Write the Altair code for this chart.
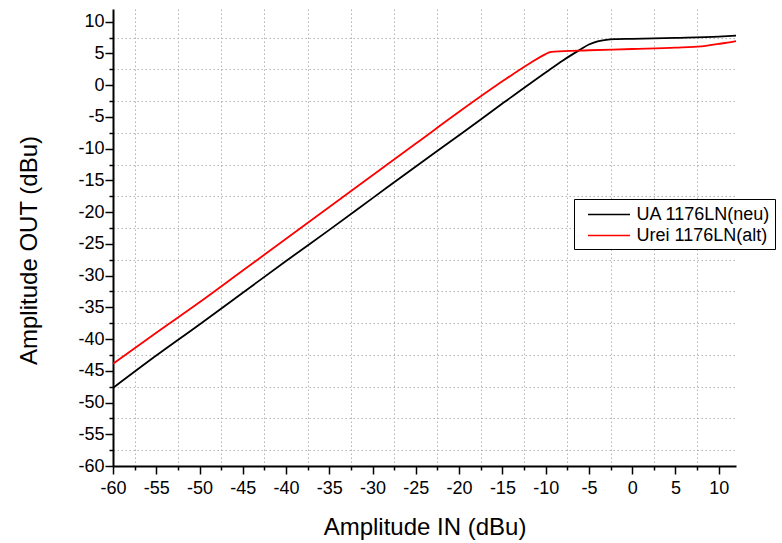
import altair as alt
import pandas as pd

# UA 1176LN (neu) – black
x_black = [-60, -55, -50, -45, -40, -35, -30, -25, -20, -15, -10, -8, -6, -5, -4, -3, -2, 0, 5, 10, 12]
y_black = [-47.7, -42.6, -37.7, -32.7, -27.7, -22.8, -17.8, -12.8, -7.9, -2.9, 2.0, 3.9, 5.6, 6.4, 6.9,
           7.15, 7.25, 7.3, 7.45, 7.65, 7.8]
# Urei 1176LN (alt) – red
x_red = [-60, -55, -50, -45, -40, -35, -30, -25, -20, -15, -12, -10, -9.5, -9, -5, 0, 5, 8, 9, 10, 11, 12]
y_red = [-43.9, -39.0, -34.2, -29.2, -24.2, -19.2, -14.2, -9.2, -4.2, 0.6, 3.3, 4.9, 5.2, 5.3, 5.5,
         5.7, 5.9, 6.1, 6.3, 6.5, 6.7, 6.95]

series_names = ["UA 1176LN(neu)", "Urei 1176LN(alt)"]
series_colors = ["#000000", "#ff0000"]

x_major = list(range(-60, 11, 5))
x_minor = [v + 2.5 for v in range(-60, 10, 5)]
y_major = list(range(-60, 11, 5))
y_minor = [v + 2.5 for v in range(-60, 10, 5)]

df = pd.concat([
    pd.DataFrame({"x": x_black, "y": y_black, "series": series_names[0], "order": range(len(x_black))}),
    pd.DataFrame({"x": x_red, "y": y_red, "series": series_names[1], "order": range(len(x_red))}),
])

FONT = "Liberation Sans"
xscale = alt.Scale(domain=[-60, 12], nice=False, zero=False)
yscale = alt.Scale(domain=[-60, 12], nice=False, zero=False)

grid_layer = alt.Chart(df).mark_line(opacity=0).encode(
    x=alt.X("x:Q", scale=xscale, axis=alt.Axis(
        orient="bottom", values=x_minor, grid=True, gridDash=[1.5, 2.5], gridColor="#b4b4b4",
        gridWidth=1, ticks=True, tickSize=4, tickWidth=1.5, tickColor="black",
        labels=False, domain=False, title=None)),
    y=alt.Y("y:Q", scale=yscale, axis=alt.Axis(
        orient="left", values=y_minor, grid=True, gridDash=[1.5, 2.5], gridColor="#b4b4b4",
        gridWidth=1, ticks=True, tickSize=4, tickWidth=1.5, tickColor="black",
        labels=False, domain=False, title=None)),
    detail="series:N",
    order="order:Q",
)

line_layer = alt.Chart(df).mark_line(strokeWidth=1.8, interpolate="monotone").encode(
    x=alt.X("x:Q", scale=xscale, axis=alt.Axis(
        orient="bottom", values=x_major, grid=False, ticks=True, tickSize=8, tickWidth=1.5,
        tickColor="black", domain=True, domainColor="black", domainWidth=2,
        labelExpr="'' + datum.value", labelFlush=False, labelOverlap=False,
        labelFont=FONT, labelFontSize=18, labelColor="black", labelPadding=5,
        title="Amplitude IN (dBu)", titleFont=FONT, titleFontSize=24, titleFontWeight="normal",
        titleColor="black", titleX=311.5, titleY=68, titleAlign="center", titleBaseline="alphabetic")),
    y=alt.Y("y:Q", scale=yscale, axis=alt.Axis(
        orient="left", values=y_major, grid=False, ticks=True, tickSize=8, tickWidth=1.5,
        tickColor="black", domain=True, domainColor="black", domainWidth=2,
        labelExpr="'' + datum.value", labelFlush=False, labelOverlap=False,
        labelFont=FONT, labelFontSize=18, labelColor="black", labelPadding=1,
        title="Amplitude OUT (dBu)", titleFont=FONT, titleFontSize=24, titleFontWeight="normal",
        titleColor="black", titleX=-84, titleY=241, titleAngle=-90, titleAlign="center",
        titleBaseline="middle")),
    color=alt.Color("series:N", scale=alt.Scale(domain=series_names, range=series_colors),
                    legend=alt.Legend(
                        orient="none", legendX=461, legendY=190, title=None,
                        symbolType="M-2,0H2", symbolSize=441, symbolStrokeWidth=1.5,
                        symbolOffset=19.5, labelOffset=16,
                        labelFont=FONT, labelFontSize=18, labelColor="black",
                        strokeColor="black", fillColor="white", padding=4, rowPadding=0)),
    order="order:Q",
)

chart = alt.layer(grid_layer, line_layer).resolve_axis(x="independent", y="independent").properties(
    width=623, height=457,
    padding={"left": 113, "top": 9, "right": 46, "bottom": 77},
    autosize=alt.AutoSizeParams(type="none"),
    background="white",
).configure_view(stroke=None)

chart.save("out.html", embed_options={"renderer": "svg", "actions": False})
